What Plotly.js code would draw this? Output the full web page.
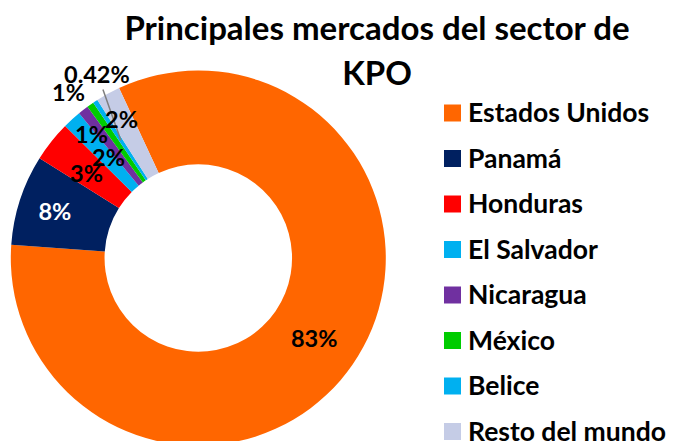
<!DOCTYPE html>
<html>
<head>
<meta charset="utf-8">
<script src="https://cdn.plot.ly/plotly-3.0.1.min.js"></script>
<style>
html, body { margin:0; padding:0; overflow:hidden; background:#fff; }
#chart { width:677px; height:460px; }
</style>
</head>
<body>
<div id="chart"></div>
<script>
// ---- data ----
const categories = ['Estados Unidos', 'Panamá', 'Honduras', 'El Salvador', 'Nicaragua', 'México', 'Belice', 'Resto del mundo'];
const shares = [83.0, 7.8, 3.5, 1.6, 0.9, 0.6, 0.42, 2.1];
const shareLabels = ['83%', '8%', '3%', '2%', '1%', '1%', '0.42%', '2%'];
const titleLines = ['Principales mercados del sector de', 'KPO'];

// ---- style ----
const colors = ['#FF6600', '#002060', '#FF0000', '#00B0F0', '#7030A0', '#00CC00', '#00B0F0', '#C5CCE6'];
const labelColors = ['#000', '#fff', '#000', '#000', '#000', '#000', '#000', '#000'];
const FONT = 'Lato, "Open Sans", sans-serif';
const LABEL_SIZE = 23.5;
const W = 677, H = 460;
const cx = 198.3, cy = 258, R = 187.5;
const ROT = -25;
// labels drawn natively by plotly vs annotated (nudged) labels
const nativeLabel = [true, true, false, false, false, false, false, false];
// placement for annotated labels: radius factor, angle nudge (deg), arrow radius factor
const placement = {
  2: {r: 0.75, da: -1.2},
  3: {r: 0.72, da: 0.8},
  4: {r: 0.873, da: -2.9},
  5: {r: 1.123, da: -2.9},
  6: {r: 1.119, da: 4.6, arrowR: 0.752},
  7: {r: 0.847, da: -0.2}
};

const px2x = p => p / W;
const px2y = p => 1 - p / H;

const total = shares.reduce((a, b) => a + b, 0);
let cum = 0;
const annotations = [];
shares.forEach((v, i) => {
  const mid = ROT + 360 * (cum + v / 2) / total;
  cum += v;
  if (nativeLabel[i]) return;
  const pl = placement[i];
  const a = (mid + pl.da) * Math.PI / 180;
  const lx = cx + pl.r * R * Math.sin(a), ly = cy - pl.r * R * Math.cos(a);
  const ann = {
    text: '<b>' + shareLabels[i] + '</b>', xref: 'paper', yref: 'paper',
    xanchor: 'center', yanchor: 'middle',
    font: {family: FONT, size: LABEL_SIZE, color: labelColors[i]}, showarrow: false
  };
  if (pl.arrowR) {
    const am = mid * Math.PI / 180;
    const tx = cx + pl.arrowR * R * Math.sin(am), ty = cy - pl.arrowR * R * Math.cos(am);
    Object.assign(ann, {x: px2x(tx), y: px2y(ty), showarrow: true, arrowhead: 0,
      arrowwidth: 1.5, arrowcolor: '#7F7F7F', ax: lx - tx, ay: ly - ty, standoff: 0});
  } else {
    Object.assign(ann, {x: px2x(lx), y: px2y(ly)});
  }
  annotations.push(ann);
});

// manual legend
const legTop = 112, legStep = 45.5, sq = 17, sqX = 444, txtX = 466;
const shapes = [];
categories.forEach((c, i) => {
  const yc = legTop + i * legStep;
  shapes.push({type: 'rect', xref: 'paper', yref: 'paper',
    x0: px2x(sqX), x1: px2x(sqX + sq), y0: px2y(yc + 1 - sq / 2), y1: px2y(yc + 1 + sq / 2),
    fillcolor: colors[i], line: {width: 0}});
  annotations.push({text: '<b>' + c + '</b>', xref: 'paper', yref: 'paper',
    x: px2x(txtX), y: px2y(yc), xanchor: 'left', yanchor: 'middle', showarrow: false,
    font: {family: FONT, size: 26.5, color: '#000'}});
});

const trace = {
  type: 'pie',
  labels: categories,
  values: shares,
  text: shareLabels,
  textinfo: 'text',
  textposition: nativeLabel.map(n => n ? 'inside' : 'none'),
  insidetextorientation: 'horizontal',
  insidetextfont: {family: FONT, size: LABEL_SIZE, color: labelColors, weight: 'bold'},
  texttemplate: '<b>%{text}</b>',
  hole: 0.5,
  sort: false,
  direction: 'clockwise',
  rotation: ROT,
  marker: {colors: colors, line: {width: 0}},
  showlegend: false,
  hoverinfo: 'label+percent',
  domain: {x: [px2x(cx - R), px2x(cx + R)], y: [1 - (cy + R) / H, 1 - (cy - R) / H]}
};

const layout = {
  width: W, height: H,
  margin: {l: 0, r: 0, t: 0, b: 0},
  paper_bgcolor: '#fff',
  showlegend: false,
  uniformtext: {mode: 'show', minsize: LABEL_SIZE},
  title: {
    text: titleLines.map(t => '<span style="font-size:33px">' + t + '</span>').join('<br>'),
    font: {family: FONT, size: 34.6, color: '#000', weight: 'bold'},
    x: px2x(377), xanchor: 'center', xref: 'paper',
    y: 1 - 40 / H, yanchor: 'top', yref: 'container'
  },
  annotations: annotations,
  shapes: shapes
};

Plotly.newPlot('chart', [trace], layout, {displayModeBar: false, staticPlot: true});
</script>
</body>
</html>
